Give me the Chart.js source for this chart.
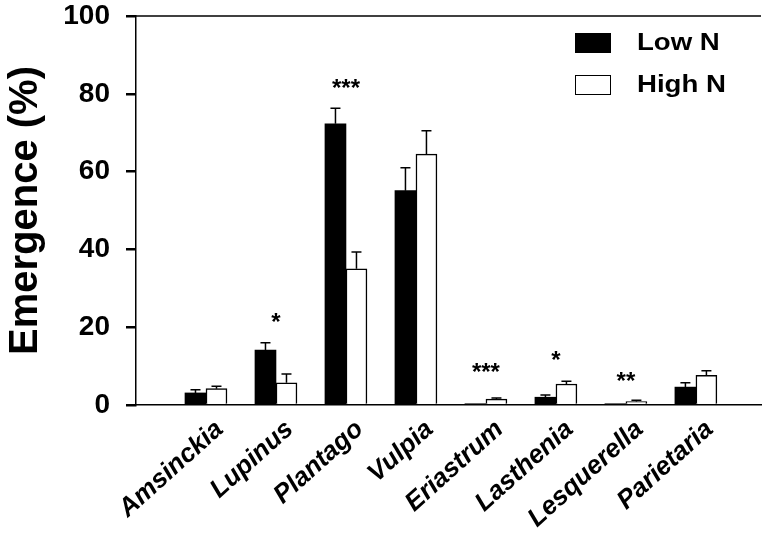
<!DOCTYPE html>
<html>
<head>
<meta charset="utf-8">
<script src="https://cdn.jsdelivr.net/npm/chart.js@4"></script>
<style>
  html, body { margin: 0; padding: 0; background: #fff; }
  #wrap { width: 765px; height: 533px; }
</style>
</head>
<body>
<div id="wrap"><canvas id="chart"></canvas></div>
<script>
// species along the x axis
var species = ['Amsinckia', 'Lupinus', 'Plantago', 'Vulpia', 'Eriastrum', 'Lasthenia', 'Lesquerella', 'Parietaria'];
// mean emergence (%)
var lowN  = [3.1, 14.1, 72.3, 55.1, 0.3, 2.0, 0.3, 4.6];
var highN = [4.2, 5.7, 35.0, 64.5, 1.5, 5.4, 0.9, 7.6];
// upper whisker (mean + SE)
var lowNErr  = [3.9, 16.0, 76.3, 61.0, 0.3, 2.6, 0.3, 5.7];
var highNErr = [4.8, 8.0, 39.3, 70.5, 1.8, 6.1, 1.2, 8.8];
// significance marks and the height they sit at
var sigMarks = ['', '*', '***', '', '***', '*', '**', ''];
var sigY     = [0, 22.9, 83, 0, 10, 13.1, 7.7, 0];
var yTicks = [0, 20, 40, 60, 80, 100];

var FONT = "'Liberation Sans', Arial, sans-serif";

function pts(vals) {
  return vals.map(function (v, i) { return { x: i + 1, y: v }; });
}

// error whiskers, stars, species labels, legend and top frame line
var extras = {
  id: 'extras',
  afterDatasetsDraw: function (chart) {
    var ctx = chart.ctx;
    var xs = chart.scales.x, ys = chart.scales.y;
    var area = chart.chartArea;
    ctx.save();
    ctx.strokeStyle = '#000';
    ctx.lineWidth = 1.5;
    [lowNErr, highNErr].forEach(function (errs, d) {
      var meta = chart.getDatasetMeta(d);
      meta.data.forEach(function (bar, i) {
        var top = ys.getPixelForValue(errs[i]);
        var base = ys.getPixelForValue(d === 0 ? lowN[i] : highN[i]);
        if (base - top < 0.5) return;
        ctx.beginPath();
        ctx.moveTo(bar.x, base);
        ctx.lineTo(bar.x, top);
        ctx.moveTo(bar.x - 5, top);
        ctx.lineTo(bar.x + 5, top);
        ctx.stroke();
      });
    });

    // significance stars
    var starSize = 24;
    ctx.fillStyle = '#000';
    ctx.font = 'bold ' + starSize + 'px ' + FONT;
    ctx.textAlign = 'center';
    ctx.textBaseline = 'alphabetic';
    sigMarks.forEach(function (s, i) {
      if (!s) return;
      ctx.fillText(s, xs.getPixelForValue(i + 1), ys.getPixelForValue(sigY[i]) + starSize * 0.57);
    });

    // species labels, rotated
    ctx.font = 'italic bold 26px ' + FONT;
    ctx.textAlign = 'right';
    ctx.textBaseline = 'top';
    species.forEach(function (name, i) {
      ctx.save();
      ctx.translate(xs.getPixelForValue(i + 1) + 5, area.bottom + 11);
      ctx.rotate(-42 * Math.PI / 180);
      ctx.fillText(name, 0, 0);
      ctx.restore();
    });

    // top frame line
    ctx.lineWidth = 1.5;
    ctx.beginPath();
    ctx.moveTo(area.left, area.top);
    ctx.lineTo(area.right, area.top);
    ctx.stroke();

    // legend
    ctx.textAlign = 'left';
    ctx.textBaseline = 'middle';
    chart.data.datasets.forEach(function (ds, d) {
      var y = 33 + d * 42;
      ctx.fillStyle = ds.backgroundColor;
      ctx.fillRect(575, y, 36, 20);
      ctx.lineWidth = 1;
      ctx.strokeRect(575.5, y + 0.5, 35, 19);
      ctx.fillStyle = '#000';
      ctx.save();
      ctx.translate(637, y + 10);
      ctx.scale(1.15, 1);
      ctx.font = 'bold 24px ' + FONT;
      ctx.fillText(ds.label, 0, 0);
      ctx.restore();
    });
    ctx.restore();
  }
};

new Chart(document.getElementById('chart'), {
  type: 'bar',
  data: {
    datasets: [
      { label: 'Low N', data: pts(lowN), backgroundColor: '#000', borderColor: '#000', borderWidth: 0 },
      { label: 'High N', data: pts(highN), backgroundColor: '#fff', borderColor: '#000', borderWidth: 1.5 }
    ]
  },
  options: {
    responsive: true,
    maintainAspectRatio: false,
    animation: false,
    layout: { padding: { left: 0, right: 4, top: 0, bottom: 0 } },
    plugins: { legend: { display: false }, tooltip: { enabled: false } },
    datasets: { bar: { barThickness: 21, grouped: true } },
    scales: {
      x: {
        type: 'linear',
        offset: false,
        min: 0,
        max: 8.93,
        afterFit: function (s) { s.height = 128; },
        grid: { display: false, drawTicks: false },
        border: { display: true, color: '#000', width: 1.5 },
        ticks: { display: false, stepSize: 1 }
      },
      y: {
        min: 0,
        max: 100,
        afterFit: function (s) { s.width = 136; s.paddingTop = 16; s.paddingBottom = 0; },
        afterBuildTicks: function (s) { s.ticks = yTicks.map(function (v) { return { value: v }; }); },
        grid: { display: true, drawOnChartArea: false, drawTicks: true, tickLength: 10, color: '#000', lineWidth: 2.5 },
        border: { display: true, color: '#000', width: 1.5 },
        ticks: {
          color: '#000',
          padding: 16,
          font: { family: FONT, size: 28, weight: 'bold' }
        },
        title: {
          display: true,
          text: 'Emergence (%)',
          color: '#000',
          padding: { top: 2, bottom: 0 },
          font: { family: FONT, size: 40, weight: 'bold' }
        }
      }
    }
  },
  plugins: [extras]
});
</script>
</body>
</html>
